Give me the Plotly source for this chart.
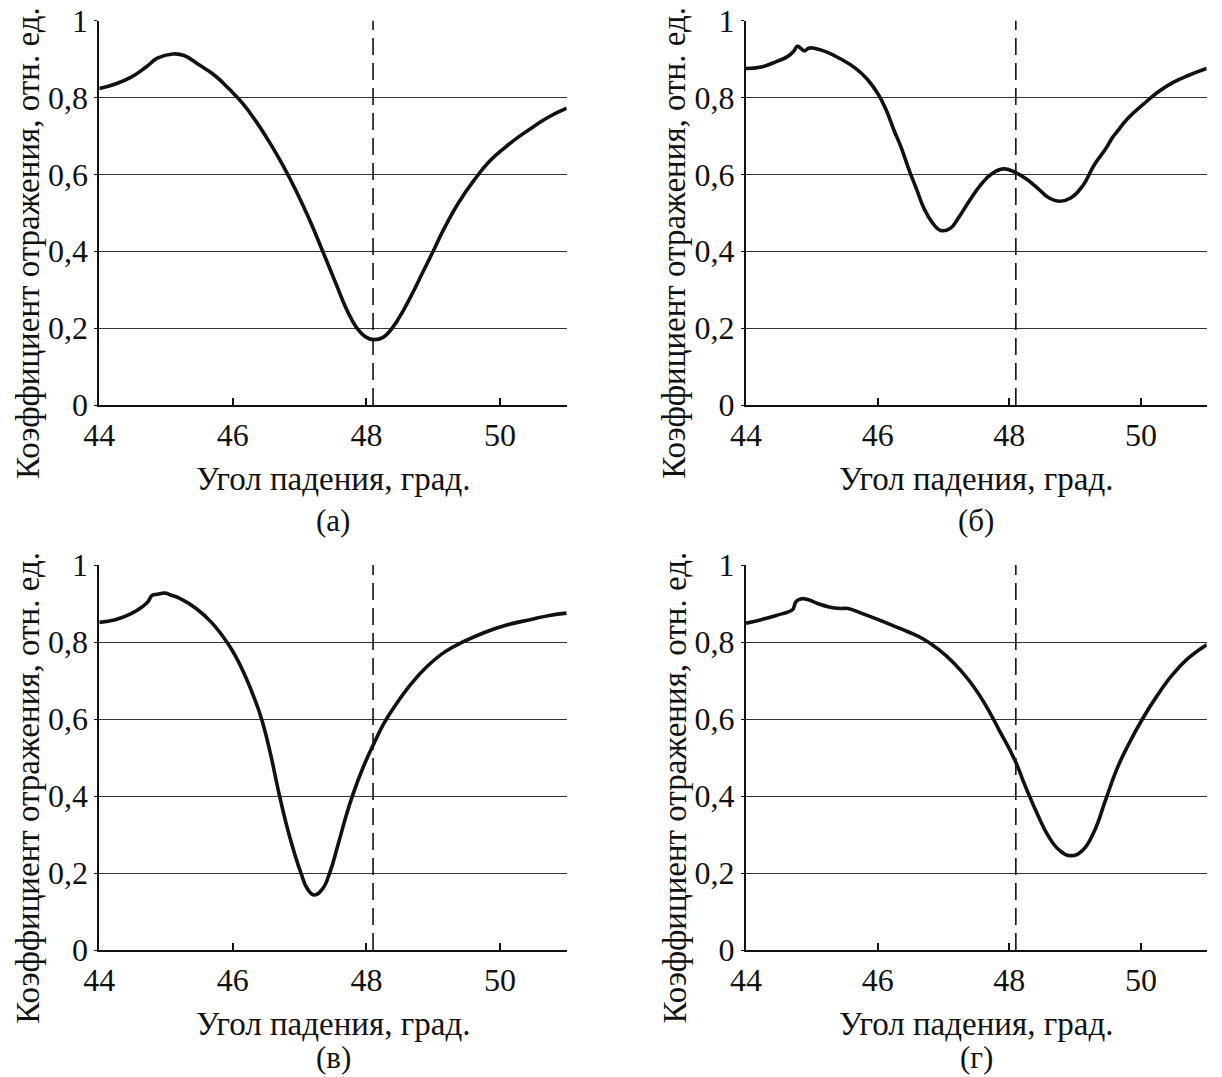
import plotly.graph_objects as go

W, H = 1222, 1077

# Angle of incidence (deg) and reflection coefficient for each panel
angle_a = [44.0, 44.24, 44.47, 44.70, 44.87, 45.10, 45.27, 45.50, 45.73, 45.95, 46.15, 46.35,
           46.55, 46.75, 46.95, 47.15, 47.35, 47.55, 47.70, 47.85, 48.00, 48.12, 48.25, 48.40,
           48.55, 48.70, 48.85, 49.00, 49.15, 49.38, 49.61, 49.84, 50.07, 50.30, 50.53, 50.75,
           51.0]
refl_a = [0.823, 0.835, 0.852, 0.879, 0.902, 0.913, 0.909, 0.884, 0.857, 0.821, 0.784, 0.737,
          0.683, 0.623, 0.556, 0.481, 0.398, 0.313, 0.250, 0.202, 0.176, 0.170, 0.176, 0.203,
          0.245, 0.294, 0.347, 0.400, 0.454, 0.526, 0.584, 0.633, 0.669, 0.700, 0.727, 0.751,
          0.772]

angle_b = [44.0, 44.23, 44.46, 44.63, 44.72, 44.78, 44.83, 44.89, 44.95, 45.03, 45.21, 45.44,
           45.67, 45.84, 46.01, 46.13, 46.25, 46.36, 46.47, 46.59, 46.70, 46.82, 46.96, 47.10,
           47.24, 47.39, 47.56, 47.74, 47.91, 48.08, 48.25, 48.43, 48.60, 48.77, 48.94, 49.12,
           49.29, 49.46, 49.57, 49.63, 49.80, 50.03, 50.26, 50.49, 50.72, 51.0]
refl_b = [0.875, 0.879, 0.893, 0.906, 0.919, 0.933, 0.928, 0.921, 0.928, 0.928, 0.919, 0.900,
          0.875, 0.848, 0.808, 0.767, 0.714, 0.669, 0.615, 0.562, 0.513, 0.477, 0.454, 0.459,
          0.490, 0.530, 0.571, 0.602, 0.614, 0.606, 0.589, 0.564, 0.539, 0.530, 0.539, 0.571,
          0.624, 0.665, 0.696, 0.709, 0.745, 0.781, 0.814, 0.839, 0.857, 0.875]

angle_c = [44.0, 44.24, 44.47, 44.64, 44.73, 44.79, 44.87, 44.99, 45.07, 45.22, 45.45, 45.68,
           45.91, 46.05, 46.20, 46.32, 46.43, 46.55, 46.70, 46.85, 47.02, 47.12, 47.22, 47.34,
           47.45, 47.57, 47.69, 47.80, 47.95, 48.12, 48.26, 48.44, 48.67, 48.90, 49.18, 49.47,
           49.76, 50.10, 50.45, 50.74, 51.0]
refl_c = [0.851, 0.858, 0.873, 0.891, 0.905, 0.921, 0.924, 0.927, 0.922, 0.912, 0.887, 0.851,
          0.800, 0.760, 0.706, 0.655, 0.600, 0.520, 0.400, 0.295, 0.200, 0.158, 0.143, 0.158,
          0.200, 0.270, 0.345, 0.405, 0.474, 0.539, 0.588, 0.637, 0.691, 0.735, 0.775, 0.802,
          0.824, 0.844, 0.858, 0.869, 0.875]

angle_d = [44.0, 44.23, 44.46, 44.69, 44.72, 44.76, 44.83, 44.92, 45.09, 45.26, 45.44, 45.55,
           45.78, 46.01, 46.24, 46.47, 46.70, 46.93, 47.16, 47.39, 47.62, 47.85, 48.08, 48.25,
           48.43, 48.60, 48.77, 48.94, 49.11, 49.29, 49.46, 49.63, 49.80, 50.03, 50.26, 50.49,
           50.72, 51.0]
refl_d = [0.849, 0.858, 0.869, 0.882, 0.887, 0.905, 0.912, 0.911, 0.900, 0.891, 0.887, 0.887,
          0.873, 0.858, 0.842, 0.826, 0.807, 0.780, 0.745, 0.700, 0.642, 0.570, 0.495, 0.423,
          0.352, 0.294, 0.258, 0.245, 0.258, 0.308, 0.388, 0.468, 0.530, 0.602, 0.664, 0.717,
          0.758, 0.793]

# Resonance angle marker (dashed vertical)
marker_angle = [48.1, 48.1]
marker_span = [0, 1]

x_ticks = [44, 46, 48, 50]
y_ticks = [0, 0.2, 0.4, 0.6, 0.8, 1]
y_tick_text = ["0", "0,2", "0,4", "0,6", "0,8", "1"]

panel_labels = ["(а)", "(б)", "(в)", "(г)"]
x_title = "Угол падения, град."
y_title = "Коэффициент отражения, отн. ед."

FONT = "Liberation Serif, Times New Roman, serif"
FS_TICK = 32
FS_TITLE = 33
FS_CAP = 31
INK = "#111"


def px_x(v):
    return v / W


def px_y(v):
    return 1 - v / H


# Plot areas in pixels: (left, right, top, bottom)
boxes = [
    (99.3, 566.7, 20.5, 405.0),
    (746.0, 1206.7, 20.5, 405.0),
    (99.3, 566.7, 565.0, 950.0),
    (746.0, 1206.7, 565.0, 950.0),
]

series = [(angle_a, refl_a), (angle_b, refl_b), (angle_c, refl_c), (angle_d, refl_d)]

fig = go.Figure()
layout = dict(
    template="none",
    width=W, height=H,
    margin=dict(l=0, r=0, t=0, b=0, autoexpand=False),
    paper_bgcolor="white", plot_bgcolor="white",
    showlegend=False,
    font=dict(family=FONT, size=FS_TICK, color=INK),
)
annotations = []

for i, ((xs, ys), (l, r, t, b)) in enumerate(zip(series, boxes)):
    n = "" if i == 0 else str(i + 1)
    xa, ya = "x" + n, "y" + n
    fig.add_trace(go.Scatter(
        x=marker_angle, y=marker_span, mode="lines", xaxis=xa, yaxis=ya,
        line=dict(color=INK, width=1.6, dash="17px,8px"), hoverinfo="skip"))
    fig.add_trace(go.Scatter(
        x=xs, y=ys, mode="lines", xaxis=xa, yaxis=ya,
        line=dict(color=INK, width=3.6, shape="spline", smoothing=1.3)))

    layout["xaxis" + n] = dict(
        domain=[px_x(l), px_x(r)], anchor=ya, range=[44, 51], automargin=False,
        tickvals=x_ticks, ticks="inside", ticklen=7, tickwidth=1.5, tickcolor=INK,
        showline=True, linecolor=INK, linewidth=2, showgrid=False, zeroline=False,
        tickfont=dict(family=FONT, size=FS_TICK, color=INK), ticklabelstandoff=1,
    )
    layout["yaxis" + n] = dict(
        domain=[px_y(b), px_y(t)], anchor=xa, range=[0, 1], automargin=False,
        tickvals=y_ticks, ticktext=y_tick_text, ticks="outside", ticklen=3,
        tickwidth=1.2, tickcolor=INK,
        showline=True, linecolor=INK, linewidth=2, showgrid=True,
        gridcolor="#333", gridwidth=1, zeroline=False,
        tickfont=dict(family=FONT, size=FS_TICK, color=INK),
    )

    cx = (l + r) / 2
    # Axis titles and panel caption
    annotations.append(dict(
        text=x_title, xref="paper", yref="paper", x=px_x(cx), y=px_y(b + 74),
        showarrow=False, font=dict(family=FONT, size=FS_TITLE, color=INK),
        xanchor="center", yanchor="middle"))
    if i < 2:
        cap = dict(y=px_y(b + 115), yanchor="middle")
    else:
        cap = dict(y=0, yanchor="bottom")
    annotations.append(dict(
        text=panel_labels[i], xref="paper", yref="paper", x=px_x(cx),
        showarrow=False, font=dict(family=FONT, size=FS_CAP, color=INK),
        xanchor="center", **cap))
    annotations.append(dict(
        text=y_title, xref="paper", yref="paper", x=px_x(l - 72), y=px_y((t + b) / 2 + 30),
        showarrow=False, textangle=-90, font=dict(family=FONT, size=FS_TITLE, color=INK),
        xanchor="center", yanchor="middle"))

layout["annotations"] = annotations
fig.update_layout(**layout)
fig.write_html("out.html")
